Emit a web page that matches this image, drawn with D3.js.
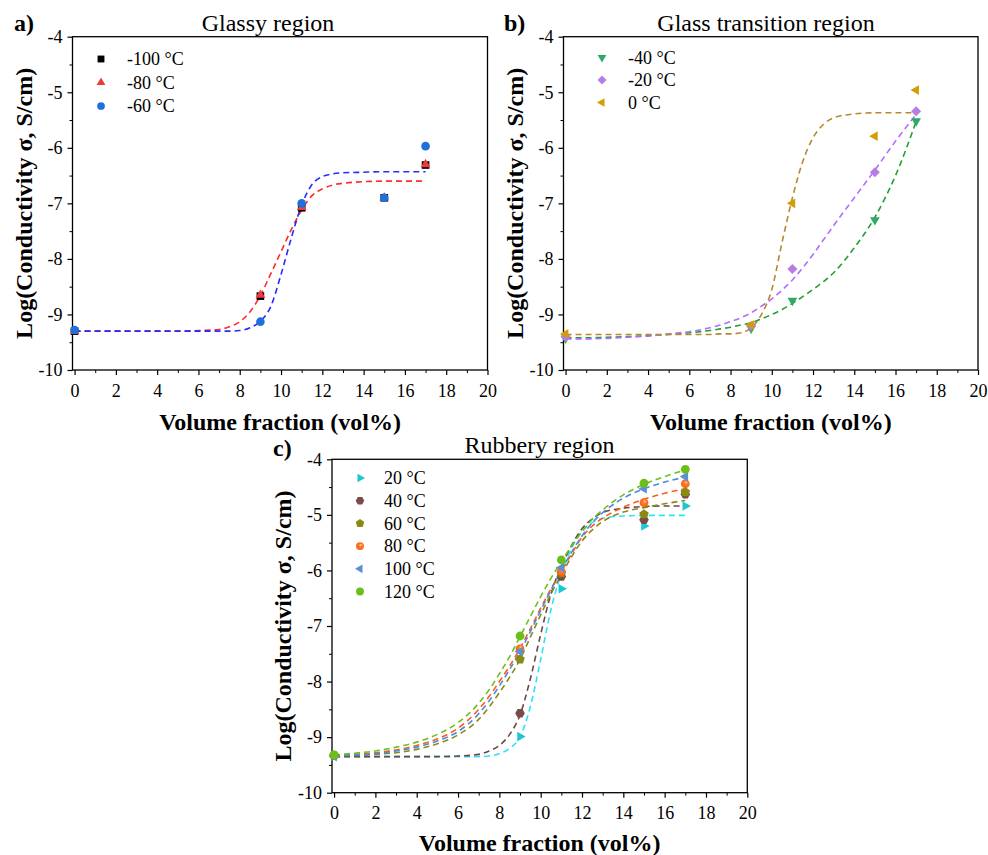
<!DOCTYPE html>
<html>
<head>
<meta charset="utf-8">
<script src="https://cdn.jsdelivr.net/npm/d3@7"></script>
<style>
  body { margin: 0; background: #fff; }
  svg text { font-family: "Liberation Serif", "Times New Roman", serif; fill: #000; }
</style>
</head>
<body>
<svg id="fig" width="988" height="855"></svg>
<script>
// ---- measured data: volume fraction (vol%) vs log10 conductivity (S/cm) ----
const volFrac = [0, 9, 11, 15, 17];

// a) glassy region
const glassyM100 = [-9.30, -8.67, -7.08, -6.90, -6.31];
const glassyM80  = [-9.30, -8.65, -7.07, -6.90, -6.30];
const glassyM60  = [-9.28, -9.13, -7.00, -6.90, -5.97];

// b) glass transition region
const transM40 = [-9.43, -9.25, -8.75, -7.30, -5.52];
const transM20 = [-9.40, -9.21, -8.18, -6.44, -5.34];
const trans0   = [-9.35, -9.19, -7.00, -5.79, -4.96];

// c) rubbery region
const rub20  = [-9.34, -8.99, -6.33, -5.20, -4.84];
const rub40  = [-9.33, -8.57, -6.11, -5.09, -4.63];
const rub60  = [-9.33, -7.60, -6.05, -4.99, -4.59];
const rub80  = [-9.33, -7.41, -6.02, -4.78, -4.44];
const rub100 = [-9.35, -7.46, -5.95, -4.53, -4.31];
const rub120 = [-9.32, -7.18, -5.81, -4.43, -4.18];

// ---- sigmoidal fit curves, sampled on a common volume-fraction grid ----
const fitX = [0, 1, 2, 3, 4, 5, 6, 7, 7.5, 8, 8.5, 9, 9.5, 10, 10.5, 11, 11.5, 12, 12.5, 13, 14, 15, 16, 17];

const fitGlassyRed  = [-9.30, -9.30, -9.30, -9.30, -9.30, -9.30, -9.29, -9.27, -9.22, -9.13, -8.95, -8.66, -8.27, -7.87, -7.47, -7.12, -6.86, -6.74, -6.67, -6.64, -6.61, -6.60, -6.60, -6.60];
const fitGlassyBlue = [-9.30, -9.30, -9.30, -9.30, -9.30, -9.30, -9.30, -9.30, -9.30, -9.29, -9.24, -9.12, -8.86, -8.28, -7.62, -7.03, -6.66, -6.52, -6.47, -6.45, -6.44, -6.43, -6.43, -6.43];

const fitTransM40 = [-9.42, -9.42, -9.41, -9.40, -9.38, -9.36, -9.33, -9.29, -9.26, -9.23, -9.19, -9.15, -9.08, -9.00, -8.91, -8.80, -8.68, -8.55, -8.41, -8.25, -7.80, -7.25, -6.50, -5.53];
const fitTransM20 = [-9.44, -9.44, -9.43, -9.41, -9.39, -9.35, -9.31, -9.24, -9.19, -9.13, -9.06, -8.97, -8.85, -8.72, -8.56, -8.38, -8.16, -7.92, -7.66, -7.40, -6.90, -6.40, -5.88, -5.40];
const fitTrans0   = [-9.36, -9.36, -9.36, -9.36, -9.36, -9.36, -9.36, -9.36, -9.35, -9.35, -9.33, -9.24, -9.00, -8.55, -7.70, -6.90, -6.25, -5.82, -5.58, -5.46, -5.39, -5.37, -5.37, -5.37];

const fitRub20  = [-9.35, -9.35, -9.35, -9.35, -9.35, -9.35, -9.35, -9.35, -9.34, -9.30, -9.20, -9.00, -8.45, -7.60, -6.70, -6.05, -5.60, -5.30, -5.14, -5.06, -5.02, -5.01, -5.01, -5.01];
const fitRub40  = [-9.35, -9.35, -9.35, -9.35, -9.35, -9.35, -9.34, -9.31, -9.25, -9.15, -8.95, -8.60, -7.95, -7.15, -6.42, -5.93, -5.55, -5.25, -5.07, -4.96, -4.88, -4.85, -4.84, -4.84];
const fitRub60  = [-9.33, -9.33, -9.31, -9.28, -9.22, -9.12, -8.96, -8.68, -8.46, -8.20, -7.92, -7.60, -7.20, -6.80, -6.42, -6.08, -5.75, -5.47, -5.27, -5.12, -4.95, -4.87, -4.80, -4.74];
const fitRub80  = [-9.33, -9.31, -9.28, -9.23, -9.15, -9.03, -8.84, -8.50, -8.27, -8.00, -7.72, -7.40, -7.05, -6.68, -6.33, -6.02, -5.70, -5.40, -5.20, -5.06, -4.86, -4.72, -4.61, -4.53];
const fitRub100 = [-9.34, -9.32, -9.30, -9.25, -9.18, -9.07, -8.90, -8.58, -8.35, -8.08, -7.78, -7.46, -7.10, -6.72, -6.35, -6.00, -5.67, -5.38, -5.14, -4.96, -4.70, -4.53, -4.41, -4.32];
const fitRub120 = [-9.32, -9.29, -9.25, -9.18, -9.09, -8.95, -8.74, -8.39, -8.15, -7.86, -7.55, -7.19, -6.83, -6.47, -6.14, -5.84, -5.56, -5.30, -5.08, -4.91, -4.64, -4.45, -4.31, -4.19];

// ---- axis ticks ----
const xTickValues = [0, 2, 4, 6, 8, 10, 12, 14, 16, 18, 20];
const yTickValues = [-10, -9, -8, -7, -6, -5, -4];

// ---- marker shapes (size = circumradius in px) ----
function polygonSymbol(n, rot) {
  return {
    draw(ctx, r) {
      for (let i = 0; i < n; i++) {
        const a = rot + i * 2 * Math.PI / n;
        const px = r * Math.cos(a), py = r * Math.sin(a);
        if (i === 0) ctx.moveTo(px, py); else ctx.lineTo(px, py);
      }
      ctx.closePath();
    }
  };
}
const circleSym = { draw(ctx, r) { ctx.moveTo(r, 0); ctx.arc(0, 0, r, 0, 2 * Math.PI); } };
const shapes = {
  square:   polygonSymbol(4, Math.PI / 4),
  triUp:    polygonSymbol(3, -Math.PI / 2),
  triDown:  polygonSymbol(3, Math.PI / 2),
  triLeft:  polygonSymbol(3, Math.PI),
  triRight: polygonSymbol(3, 0),
  diamond:  polygonSymbol(4, 0),
  pentagon: polygonSymbol(5, -Math.PI / 2),
  hexagon:  polygonSymbol(6, 0),
  circle:   circleSym
};

const svg = d3.select("#fig");

// shaded sphere fill for the 80 °C markers
const defs = svg.append("defs");
const grad = defs.append("radialGradient").attr("id", "sphereOrange")
  .attr("cx", "50%").attr("cy", "50%").attr("r", "60%").attr("fx", "62%").attr("fy", "32%");
grad.append("stop").attr("offset", "0%").attr("stop-color", "#ffd0b0");
grad.append("stop").attr("offset", "35%").attr("stop-color", "#ff7a30");
grad.append("stop").attr("offset", "100%").attr("stop-color", "#f25a0a");

const panels = [
  {
    letter: "a)", title: "Glassy region",
    left: 72.5, right: 487.5, top: 36.7, bottom: 370,
    titleX: 268, titleY: 31, letterX: 14, letterY: 31,
    yLabelX: 24, xLabelY: 430,
    legendX: 101, legendTextX: 127, legendY: 59, legendStep: 23.5,
    fits: [
      { y: fitGlassyRed,  color: "#ff2a2a" },
      { y: fitGlassyBlue, color: "#2a2aff" }
    ],
    series: [
      { name: "-100 °C", y: glassyM100, shape: "square", r: 5.4, fill: "#000000" },
      { name: "-80 °C",  y: glassyM80,  shape: "triUp",  r: 5.6, fill: "#ee3a3f" },
      { name: "-60 °C",  y: glassyM60,  shape: "circle", r: 4.3, fill: "#1f6fdd" }
    ]
  },
  {
    letter: "b)", title: "Glass transition region",
    left: 563.5, right: 978, top: 36.7, bottom: 370,
    titleX: 766, titleY: 31, letterX: 504, letterY: 31,
    yLabelX: 515, xLabelY: 430,
    legendX: 602, legendTextX: 628, legendY: 57.5, legendStep: 22.5,
    fits: [
      { y: fitTransM40, color: "#23a032" },
      { y: fitTransM20, color: "#b36bff" },
      { y: fitTrans0,   color: "#b8882e" }
    ],
    series: [
      { name: "-40 °C", y: transM40, shape: "triDown", r: 5.6, fill: "#2fa86a" },
      { name: "-20 °C", y: transM20, shape: "diamond", r: 5.0, fill: "#b57ee4" },
      { name: "0 °C",   y: trans0,   shape: "triLeft", r: 5.6, fill: "#d49c05" }
    ]
  },
  {
    letter: "c)", title: "Rubbery region",
    left: 332, right: 747.3, top: 459.3, bottom: 792.7,
    titleX: 539.5, titleY: 453, letterX: 273, letterY: 456,
    yLabelX: 283, xLabelY: 851,
    legendX: 360, legendTextX: 384, legendY: 478, legendStep: 22.7,
    fits: [
      { y: fitRub20,  color: "#2ae2ff" },
      { y: fitRub40,  color: "#6e4646" },
      { y: fitRub60,  color: "#8a8a18" },
      { y: fitRub80,  color: "#ff5a1c" },
      { y: fitRub100, color: "#4c8ade" },
      { y: fitRub120, color: "#6cc01e" }
    ],
    series: [
      { name: "20 °C",  y: rub20,  shape: "triRight", r: 5.6, fill: "#1ec6d2" },
      { name: "40 °C",  y: rub40,  shape: "hexagon",  r: 4.8, fill: "#7a4b4b" },
      { name: "60 °C",  y: rub60,  shape: "pentagon", r: 5.0, fill: "#8a8912" },
      { name: "80 °C",  y: rub80,  shape: "circle",   r: 4.4, fill: "url(#sphereOrange)" },
      { name: "100 °C", y: rub100, shape: "triLeft",  r: 5.6, fill: "#5b90d6" },
      { name: "120 °C", y: rub120, shape: "circle",   r: 4.4, fill: "#6cbf1a" }
    ]
  }
];

function drawPanel(p) {
  const g = svg.append("g");
  const x = d3.scaleLinear().domain([-0.1, 20]).range([p.left, p.right]);
  const y = d3.scaleLinear().domain([-10, -4]).range([p.bottom, p.top]);

  // minor ticks
  g.append("g").attr("transform", `translate(0,${p.bottom})`)
    .call(d3.axisBottom(x).tickValues(d3.range(1, 20, 2)).tickSize(3).tickSizeOuter(0).tickFormat(""))
    .call(a => a.select(".domain").remove());
  g.append("g").attr("transform", `translate(${p.left},0)`)
    .call(d3.axisLeft(y).tickValues(d3.range(-9.5, -4, 1)).tickSize(3).tickSizeOuter(0).tickFormat(""))
    .call(a => a.select(".domain").remove());

  // major ticks + labels
  const xa = g.append("g").attr("transform", `translate(0,${p.bottom})`)
    .call(d3.axisBottom(x).tickValues(xTickValues).tickSize(5).tickSizeOuter(0).tickPadding(9).tickFormat(d3.format("d")));
  const ya = g.append("g").attr("transform", `translate(${p.left},0)`)
    .call(d3.axisLeft(y).tickValues(yTickValues).tickSize(5).tickSizeOuter(0).tickPadding(5).tickFormat(d => d3.format("d")(d).replace("−", "-")));
  [xa, ya].forEach(a => {
    a.attr("font-family", null);
    a.selectAll("text").attr("font-size", 18).attr("fill", "#000");
    a.selectAll("line").attr("stroke", "#000").attr("stroke-width", 1.2);
    a.select(".domain").remove();
  });

  // frame
  g.append("rect").attr("x", p.left).attr("y", p.top)
    .attr("width", p.right - p.left).attr("height", p.bottom - p.top)
    .attr("fill", "none").attr("stroke", "#000").attr("stroke-width", 1.3);

  // fit curves
  const line = d3.line().x((d, i) => x(fitX[i])).y(d => y(d)).curve(d3.curveMonotoneX);
  p.fits.forEach(f => {
    g.append("path").attr("d", line(f.y)).attr("fill", "none")
      .attr("stroke", f.color).attr("stroke-width", 1.6).attr("stroke-dasharray", "6,4");
  });

  // data markers
  p.series.forEach(s => {
    const sym = d3.symbol().type(shapes[s.shape]).size(s.r);
    g.append("g").selectAll("path").data(s.y).join("path")
      .attr("d", sym)
      .attr("transform", (d, i) => `translate(${x(volFrac[i])},${y(d)})`)
      .attr("fill", s.fill);
  });

  // legend
  p.series.forEach((s, i) => {
    const ly = p.legendY + i * p.legendStep;
    const sym = d3.symbol().type(shapes[s.shape]).size(s.r * 0.9);
    g.append("path").attr("d", sym).attr("transform", `translate(${p.legendX},${ly})`).attr("fill", s.fill);
    g.append("text").attr("x", p.legendTextX).attr("y", ly + 6.3)
      .attr("font-size", 18).text(s.name);
  });

  // titles and axis labels
  g.append("text").attr("x", p.titleX).attr("y", p.titleY).attr("text-anchor", "middle")
    .attr("font-size", 24).text(p.title);
  g.append("text").attr("x", p.letterX).attr("y", p.letterY)
    .attr("font-size", 24).attr("font-weight", "bold").text(p.letter);
  g.append("text").attr("x", (p.left + p.right) / 2).attr("y", p.xLabelY).attr("text-anchor", "middle")
    .attr("font-size", 24).attr("font-weight", "bold").text("Volume fraction (vol%)");
  g.append("text")
    .attr("transform", `translate(${p.yLabelX},${(p.top + p.bottom) / 2}) rotate(-90)`)
    .attr("text-anchor", "middle").attr("dy", "0.35em")
    .attr("font-size", 24).attr("font-weight", "bold").text("Log(Conductivity σ, S/cm)");
}

panels.forEach(drawPanel);
</script>
</body>
</html>
